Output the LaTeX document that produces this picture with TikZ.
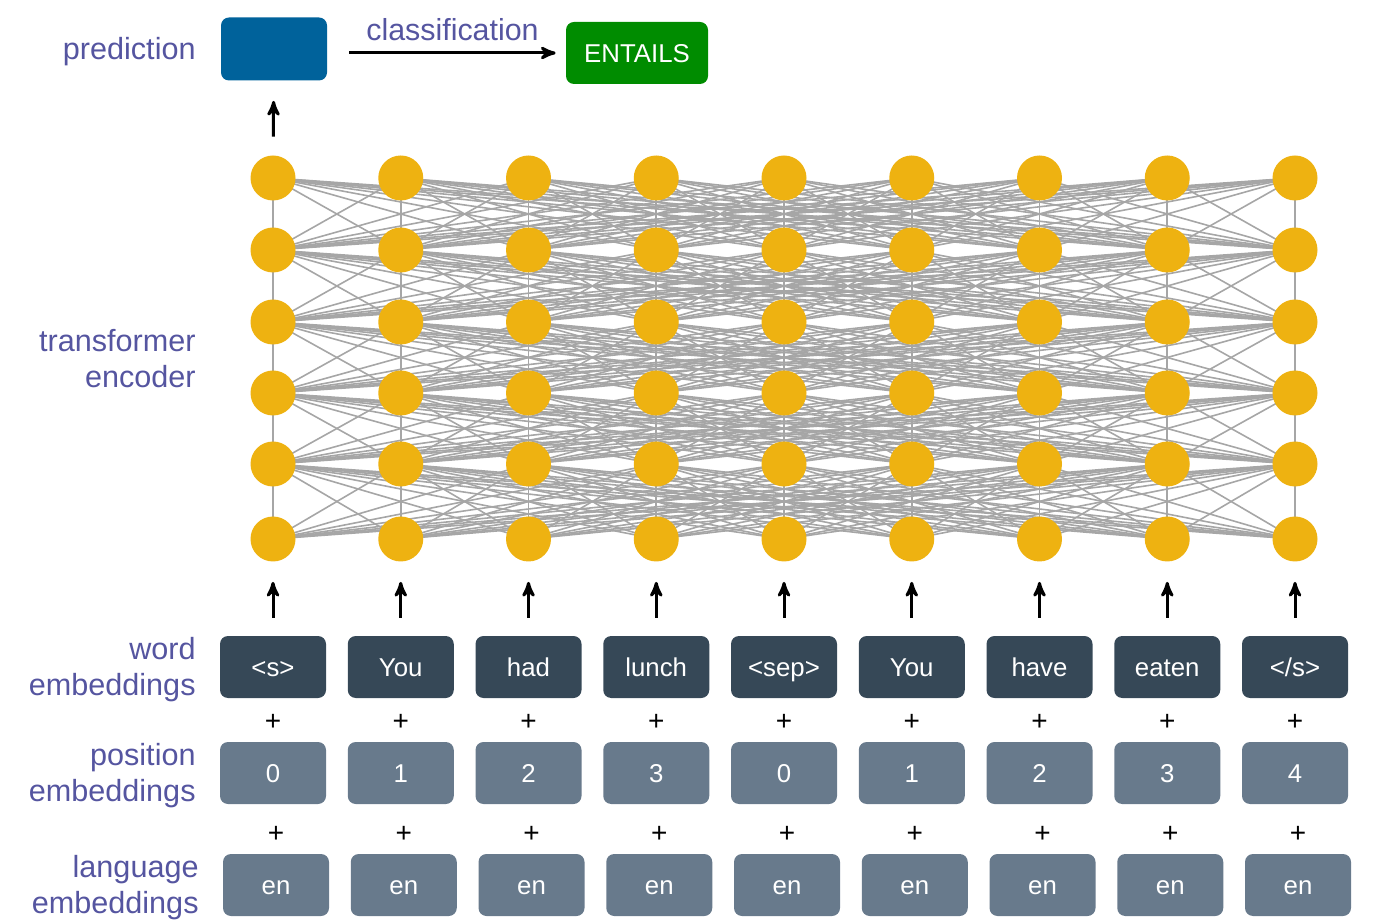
\documentclass[tikz,border=0pt]{standalone}
\usepackage{fontspec}
\setmainfont{Liberation Sans}
\usetikzlibrary{arrows}
\usetikzlibrary{backgrounds}
\usepackage{xcolor}
\definecolor{labelblue}{RGB}{85,85,160}
\definecolor{unityellow}{RGB}{238,178,17}
\definecolor{edgegray}{RGB}{166,166,166}
\definecolor{predblue}{RGB}{0,98,155}
\definecolor{entailgreen}{RGB}{0,140,0}
\definecolor{wordgray}{RGB}{54,72,87}
\definecolor{posgray}{RGB}{104,122,140}

\begin{document}
\begin{tikzpicture}[x=0.5pt, y=-0.5pt,
  unit/.style={circle, fill=unityellow, minimum size=22.5pt, inner sep=0},
  embbox/.style={rounded corners=4pt, minimum width=53pt, minimum height=31pt, inner sep=0, text height=9.2pt, text depth=0pt, text=white, font=\fontsize{12.9}{15}\selectfont},
  plussign/.style={inner sep=0, font=\fontsize{14}{16}\selectfont},
  sidelabel/.style={anchor=east, align=right, inner sep=0, text=labelblue, font=\fontsize{15.3}{18}\selectfont},
  uparrow/.style={black, line width=1.5pt, ->, >=stealth', shorten <=9pt, shorten >=10pt}]
\useasboundingbox (0,0) rectangle (1386,924);

% encoder units
\foreach \r/\y in {1/178,2/250,3/322,4/393,5/464,6/539}
 \foreach \i in {0,...,8}
  \node[unit] (n-\i-\r) at ({273+127.75*\i},\y) {};
\begin{scope}[on background layer]
\foreach \r [evaluate=\r as \s using int(\r+1)] in {1,...,5}
 \foreach \i in {0,...,8}
  \foreach \j in {0,...,8}
   \draw[edgegray, line width=0.8pt] (n-\i-\r.center) -- (n-\j-\s.center);
\end{scope}

% embeddings
\foreach \w [count=\i from 0] in {<s>,You,had,lunch,<sep>,You,have,eaten,</s>} {
 \node[embbox, fill=wordgray] (w-\i) at ({273+127.75*\i},667) {\w};
 \node[plussign] (plus-a-\i) at ({273+127.75*\i},722) {+};
 \draw[uparrow] (w-\i) -- (n-\i-6);
}
\foreach \p [count=\i from 0] in {0,1,2,3,0,1,2,3,4} {
 \node[embbox, fill=posgray] (p-\i) at ({273+127.75*\i},773) {\p};
 \node[plussign] (plus-b-\i) at ({276+127.75*\i},834) {+};
 \node[embbox, fill=posgray] (l-\i) at ({276+127.75*\i},885) {en};
}

% prediction
\node[embbox, fill=predblue, minimum height=31.5pt] (pred) at (274,49) {};
\node[embbox, fill=entailgreen, minimum width=71pt] (entails) at (637,53) {ENTAILS};
\draw[uparrow, shorten <=9.25pt] (n-0-1) -- (pred);
\draw[black, line width=1.5pt, ->, >=stealth', shorten <=11pt, shorten >=5pt] (pred.east |- entails.west) -- node[above, yshift=2pt, xshift=3pt, text=labelblue, font=\fontsize{15.2}{18}\selectfont] {classification} (entails.west);

% side labels
\node[sidelabel] (lab-pred) at (196,52) {prediction};
\node[sidelabel] (lab-enc) at (196,359) {transformer\\encoder};
\node[sidelabel] (lab-word) at (196,670) {word\\embeddings};
\node[sidelabel] (lab-pos) at (196,776) {position\\embeddings};
\node[sidelabel] (lab-lang) at (199,888) {language\\embeddings};
\end{tikzpicture}
\end{document}
